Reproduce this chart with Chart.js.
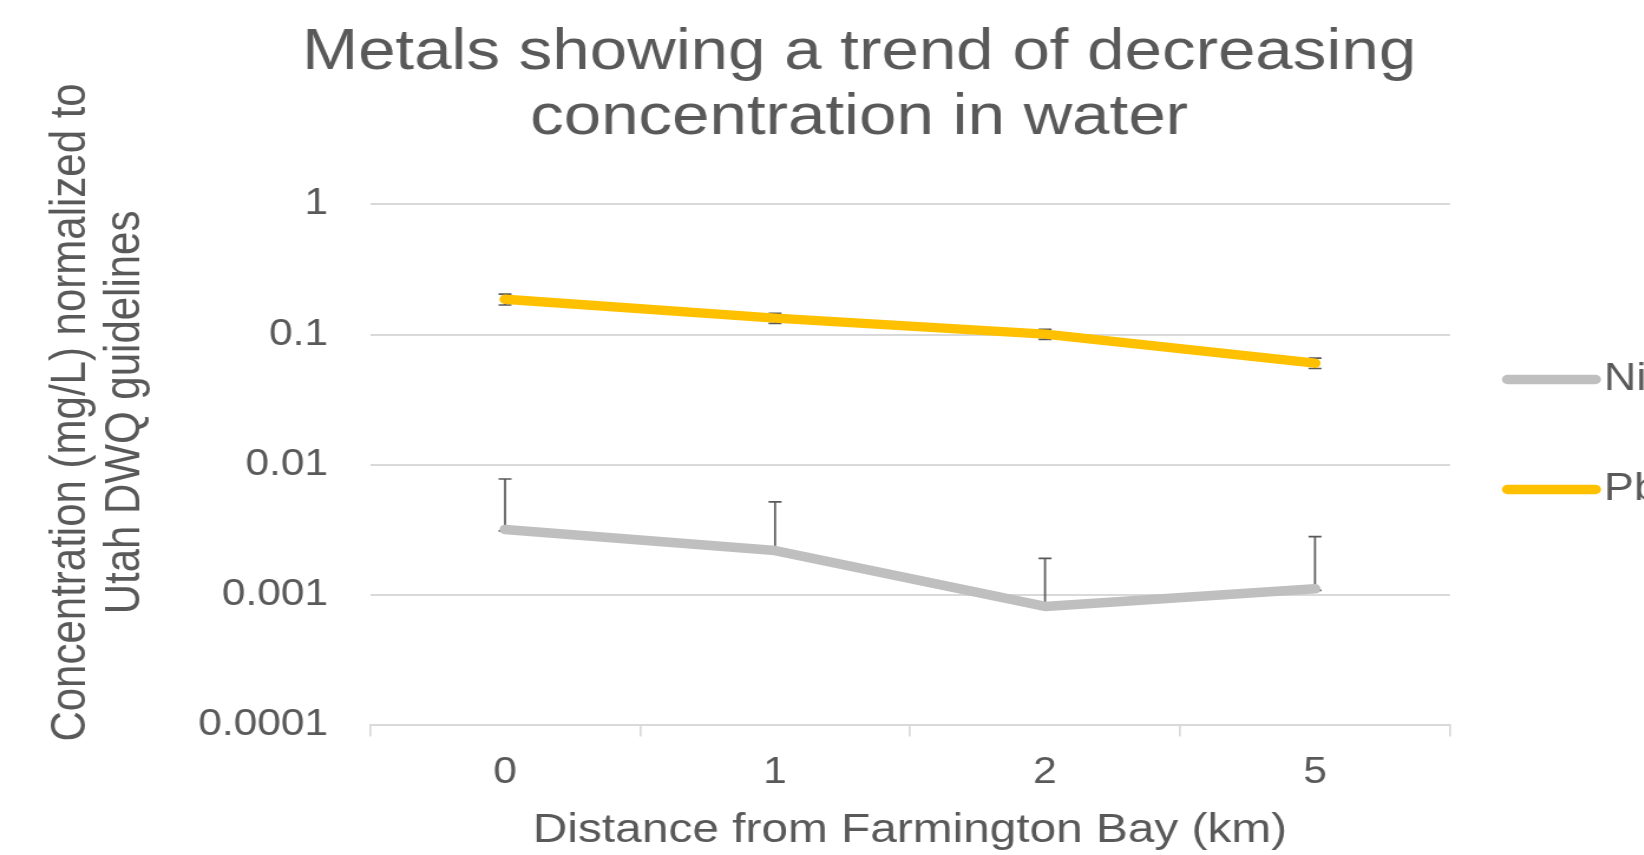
<!DOCTYPE html>
<html>
<head>
<meta charset="utf-8">
<title>Metals showing a trend of decreasing concentration in water</title>
<script src="https://cdn.jsdelivr.net/npm/chart.js@4.4.1/dist/chart.umd.min.js"></script>
<style>
  html, body { margin: 0; padding: 0; background: #ffffff; overflow: hidden; width: 1644px; height: 855px; }
  /* the chart is laid out on a narrower canvas and widened horizontally */
  #wrap { position: absolute; left: 0; top: 0; width: 1456px; height: 855px; transform: scaleX(1.18); transform-origin: 0 0; }
  canvas { display: block; }
</style>
</head>
<body>
<div id="wrap"><canvas id="chart" width="1456" height="855"></canvas></div>
<script>
// Sampling sites (distance from Farmington Bay, km)
const distances = ['0', '1', '2', '5'];

// Concentrations normalized to Utah DWQ guidelines
const niValues = [0.0032, 0.0022, 0.00082, 0.00112];
const niErrPlus = [0.0046, 0.0030, 0.0011, 0.0017];
const niErrMinus = [0.00008, 0.00005, 0.00002, 0.00003];

const pbValues = [0.187, 0.134, 0.101, 0.0605];
const pbErrPlus = [0.018, 0.012, 0.009, 0.0055];
const pbErrMinus = [0.018, 0.012, 0.009, 0.0055];

// Log axis ticks
const yTickValues = [0.0001, 0.001, 0.01, 0.1, 1];
const yTickLabels = ['0.0001', '0.001', '0.01', '0.1', '1'];

const titleLines = ['Metals showing a trend of decreasing', 'concentration in water'];
const xTitle = 'Distance from Farmington Bay (km)';
const yTitleLines = ['Concentration (mg/L) normalized to', 'Utah DWQ guidelines'];

const TEXT = '#595959';
const GRID = '#D9D9D9';
Chart.defaults.font.family = '"Liberation Sans", Arial, sans-serif';
Chart.defaults.color = TEXT;

// Vertical error bars, drawn underneath the series lines
const errorBars = {
  id: 'errorBars',
  beforeDatasetsDraw(chart, args, opts) {
    const { ctx, scales: { x, y } } = chart;
    ctx.save();
    ctx.strokeStyle = opts.color;
    ctx.lineWidth = opts.width;
    ctx.lineCap = 'butt';
    chart.data.datasets.forEach((ds) => {
      ds.data.forEach((v, i) => {
        const px = x.getPixelForValue(i);
        const hi = y.getPixelForValue(v + ds.errorPlus[i]);
        const lo = y.getPixelForValue(v - ds.errorMinus[i]);
        ctx.beginPath();
        ctx.moveTo(px, hi); ctx.lineTo(px, lo);
        ctx.moveTo(px - opts.cap, hi); ctx.lineTo(px + opts.cap, hi);
        ctx.moveTo(px - opts.cap, lo); ctx.lineTo(px + opts.cap, lo);
        ctx.stroke();
      });
    });
    ctx.restore();
  }
};

// Legend to the right of the plot: a line sample followed by the series name
const sideLegend = {
  id: 'sideLegend',
  afterDraw(chart, args, opts) {
    const { ctx, chartArea } = chart;
    const sets = chart.data.datasets;
    const x0 = chartArea.right + opts.gap;
    ctx.save();
    ctx.font = opts.fontSize + 'px ' + Chart.defaults.font.family;
    ctx.textAlign = 'left';
    ctx.textBaseline = 'middle';
    sets.forEach((ds, i) => {
      const yc = chart.height / 2 + opts.offsetY + (i - (sets.length - 1) / 2) * opts.spacing;
      const r = ds.borderWidth / 2;
      ctx.strokeStyle = ds.borderColor;
      ctx.lineWidth = ds.borderWidth;
      ctx.lineCap = 'round';
      ctx.beginPath();
      ctx.moveTo(x0 + r, yc);
      ctx.lineTo(x0 + opts.lineLength - r, yc);
      ctx.stroke();
      ctx.fillStyle = opts.color;
      ctx.fillText(ds.label, x0 + opts.lineLength + opts.textGap, yc);
    });
    ctx.restore();
  }
};

new Chart(document.getElementById('chart'), {
  type: 'line',
  data: {
    labels: distances,
    datasets: [
      {
        label: 'Ni',
        data: niValues,
        errorPlus: niErrPlus,
        errorMinus: niErrMinus,
        borderColor: '#BFBFBF',
        backgroundColor: '#BFBFBF',
        borderWidth: 9.5,
        borderCapStyle: 'round',
        borderJoinStyle: 'round',
        pointRadius: 0,
        tension: 0
      },
      {
        label: 'Pb',
        data: pbValues,
        errorPlus: pbErrPlus,
        errorMinus: pbErrMinus,
        borderColor: '#FFC000',
        backgroundColor: '#FFC000',
        borderWidth: 9.5,
        borderCapStyle: 'round',
        borderJoinStyle: 'round',
        pointRadius: 0,
        tension: 0
      }
    ]
  },
  options: {
    responsive: false,
    animation: false,
    devicePixelRatio: 1,
    layout: { padding: 0 },
    plugins: {
      legend: { display: false },
      tooltip: { enabled: false },
      title: {
        display: true,
        text: titleLines,
        color: TEXT,
        font: { size: 57, weight: 'normal', lineHeight: 1.146 },
        padding: { top: 20.4, bottom: 53.4 }
      },
      errorBars: { color: '#595959', width: 1.7, cap: 5.5 },
      sideLegend: { gap: 44, lineLength: 84, textGap: 2.5, fontSize: 38, spacing: 110, offsetY: 7, color: TEXT }
    },
    scales: {
      x: {
        type: 'category',
        offset: true,
        grid: {
          display: true,
          offset: true,
          drawOnChartArea: false,
          drawTicks: true,
          tickLength: 11,
          color: GRID,
          lineWidth: 1.7
        },
        border: { display: true, color: GRID, width: 2 },
        ticks: { color: TEXT, font: { size: 36, lineHeight: 1.15 }, padding: 15.5, maxRotation: 0 },
        title: {
          display: true,
          text: xTitle,
          color: TEXT,
          font: { size: 40.5, lineHeight: 1.1 },
          padding: { top: 0, bottom: 1.6 }
        }
      },
      y: {
        type: 'logarithmic',
        min: 0.0001,
        max: 1,
        afterBuildTicks: (scale) => {
          scale.ticks = yTickValues.map((v) => ({ value: v }));
        },
        ticks: {
          color: TEXT,
          font: { size: 36, lineHeight: 1.2 },
          padding: 35.5,
          callback: (value) => yTickLabels[yTickValues.indexOf(value)]
        },
        grid: { color: GRID, lineWidth: 2, drawTicks: false },
        border: { display: false },
        title: {
          display: true,
          // leading spaces lift the centred title toward the top of the axis
          text: yTitleLines.map((s) => ' '.repeat(9) + s),
          color: TEXT,
          font: { size: 42, lineHeight: 1.1 },
          padding: { top: 37.3, bottom: 2.8 }
        }
      },
      // empty right-hand band that holds the legend
      legendBand: {
        type: 'linear',
        position: 'right',
        display: true,
        grid: { display: false, drawTicks: false },
        border: { display: false },
        ticks: { display: false },
        title: { display: false },
        afterFit: (scale) => { scale.width = 227.2; }
      }
    }
  },
  plugins: [errorBars, sideLegend]
});
</script>
</body>
</html>
